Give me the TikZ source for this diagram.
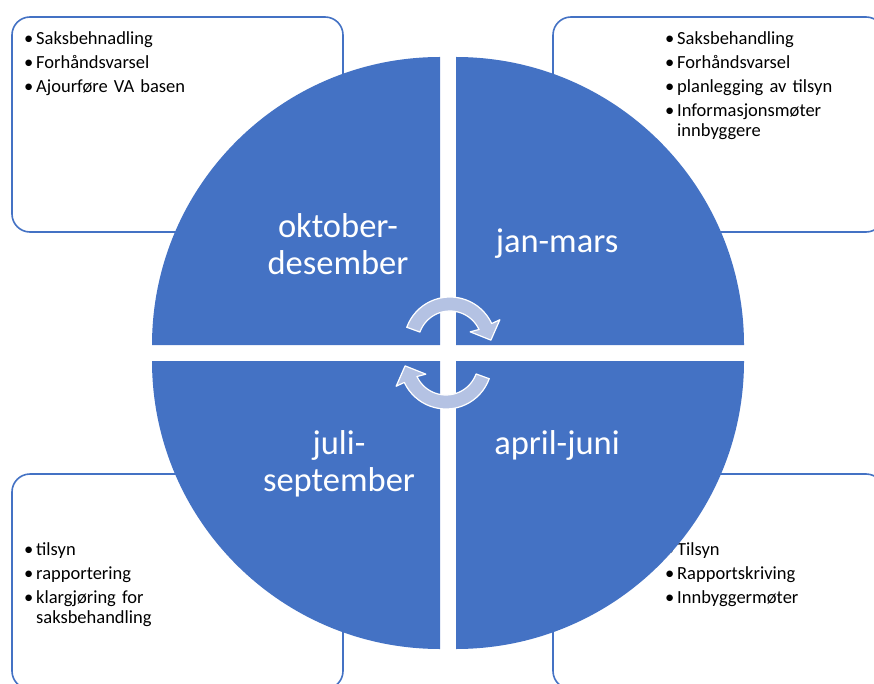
\documentclass[tikz,border=0pt]{standalone}
\usepackage{fontspec}
\setmainfont{Carlito}
\usepackage{tikz}
\definecolor{blaa}{HTML}{4472C4}
\definecolor{pilfarge}{HTML}{B4C2E3}
\newcommand{\pkt}[1]{\hangindent=12pt\hangafter=1\noindent\makebox[12pt][l]{\textbullet}#1\par}

\begin{document}
\begin{tikzpicture}[x=1pt,y=-1pt,
    boks/.style={draw=blaa,line width=1.6pt,fill=white,rounded corners=18pt},
    liste/.style={anchor=north west,inner sep=0pt,text width=300pt,align=left,
      font=\fontsize{18.5}{20.5}\selectfont,execute at begin node={\setlength{\parskip}{3.5pt}}},
    kvart/.style={fill=blaa},
    etikett/.style={text=white,align=center,inner sep=0pt,font=\fontsize{34.5}{37}\selectfont},
    pil/.style={fill=pilfarge,draw=white,line width=1.2pt,line join=round}]

    \useasboundingbox (0,0) rectangle (874,684);
    \clip (0,0) rectangle (874,684);

    \draw[boks] (12,17) rectangle (343,232);
    \draw[boks] (553,17) rectangle (884,232);
    \draw[boks] (12,474) rectangle (343,689);
    \draw[boks] (553,474) rectangle (884,689);

    \node[liste] (okttxt) at (24,31) {\pkt{Saksbehnadling}\pkt{Forhåndsvarsel}\pkt{Ajourføre VA basen}};
    \node[liste] (jantxt) at (665,31) {\pkt{Saksbehandling}\pkt{Forhåndsvarsel}\pkt{planlegging av tilsyn}\pkt{Informasjonsmøter\newline innbyggere}};
    \node[liste] (julitxt) at (24,542) {\pkt{tilsyn}\pkt{rapportering}\pkt{klargjøring for\newline saksbehandling}};
    \node[liste] (apriltxt) at (665,542) {\pkt{Tilsyn}\pkt{Rapportskriving}\pkt{Innbyggermøter}};

    \fill[kvart] (440,345) -- ++(-288pt,0pt) arc[start angle=180,end angle=90,radius=288pt] -- cycle;
    \fill[kvart] (456,345) -- ++(288pt,0pt) arc[start angle=0,end angle=90,radius=288pt] -- cycle;
    \fill[kvart] (440,361) -- ++(-288pt,0pt) arc[start angle=180,end angle=270,radius=288pt] -- cycle;
    \fill[kvart] (456,361) -- ++(288pt,0pt) arc[start angle=0,end angle=-90,radius=288pt] -- cycle;

    \node[etikett] (okt) at (338,244) {oktober-\\desember};
    \node[etikett] (jan) at (557,244) {jan-mars};
    \node[etikett] (juli) at (339,464) {juli-\\september};
    \node[etikett] (april) at (557,445) {april-juni};

    \begin{scope}[shift={(450,343)}]
      \draw[pil] (160:46pt) arc[start angle=160,end angle=25,radius=46pt] -- (25:55pt) -- (4:41pt)
        -- (29:23pt) -- (25:32pt) arc[start angle=25,end angle=160,radius=32pt] -- cycle;
    \end{scope}
    \begin{scope}[shift={(446,363)},rotate=180]
      \draw[pil] (160:46pt) arc[start angle=160,end angle=25,radius=46pt] -- (25:55pt) -- (4:41pt)
        -- (29:23pt) -- (25:32pt) arc[start angle=25,end angle=160,radius=32pt] -- cycle;
    \end{scope}

\end{tikzpicture}
\end{document}
